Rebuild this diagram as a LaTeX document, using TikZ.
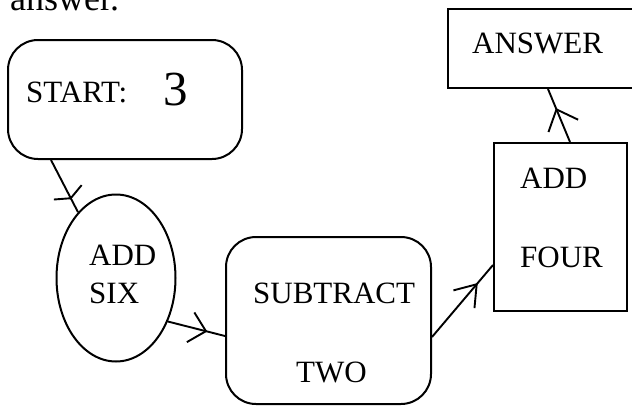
\documentclass[tikz,border=0pt]{standalone}
\usepackage{fontspec}
\setmainfont{Liberation Serif}
\usetikzlibrary{arrows.meta,decorations.markings,calc,shapes.geometric}
\begin{document}
\begin{tikzpicture}[x=1pt,y=-1pt,
  box/.style={draw,line width=2pt,inner sep=0pt},
  lbl/.style={anchor=base west,inner sep=0pt,font=\fontsize{31}{31}\selectfont},
  conn/.style={line width=1.9pt},
  midarrow/.style 2 args={decoration={markings,mark=at position #1 with {\arrow{Straight Barb[angle=#2]}}},postaction=decorate}
]
\useasboundingbox (0,0) rectangle (632,407);
\clip (0,0) rectangle (632,407);
% shapes
\node[box,rounded corners=30pt,minimum width=234pt,minimum height=119pt] (start) at (125,99.5) {};
\node[box,ellipse,minimum width=119pt,minimum height=167pt] (addsix) at (116,278) {};
\node[box,rounded corners=30pt,minimum width=205pt,minimum height=167pt] (subtract) at (328.5,320.5) {};
\node[box,minimum width=133pt,minimum height=168pt] (addfour) at (560.5,227) {};
\node[box,minimum width=202pt,minimum height=79pt] (answer) at (549,48.5) {};
% texts
\node[lbl,font=\fontsize{36}{36}\selectfont] (top) at (10,10) {answer.};
\node[lbl] (t1) at (26,102) {START:};
\node[lbl,font=\fontsize{49}{49}\selectfont] (t2) at (163,105) {3};
\node[lbl] (t3) at (89,265) {ADD};
\node[lbl] (t4) at (89,303) {SIX};
\node[lbl] (t5) at (253,303) {SUBTRACT};
\node[lbl] (t6) at (296,382) {TWO};
\node[lbl] (t7) at (520,188) {ADD};
\node[lbl] (t8) at (520,267) {FOUR};
\node[lbl] (t9) at (472,53) {ANSWER};
% connectors
\draw[conn,midarrow={0.75}{134:17pt}] ($(start.south west)+(44,0)$) -- (addsix.120);
\draw[conn,midarrow={0.69}{88:22pt}] (addsix.-40) -- ($(subtract.west)+(0,15.5)$);
\draw[conn,midarrow={0.75}{70:24pt}] ($(subtract.east)+(0,16.5)$) -- ($(addfour.west)+(0,38)$);
\draw[conn,midarrow={0.64}{84:24pt}] ($(addfour.north)+(9.5,0)$) -- ($(answer.south)+(-1,0)$);
\end{tikzpicture}
\end{document}
